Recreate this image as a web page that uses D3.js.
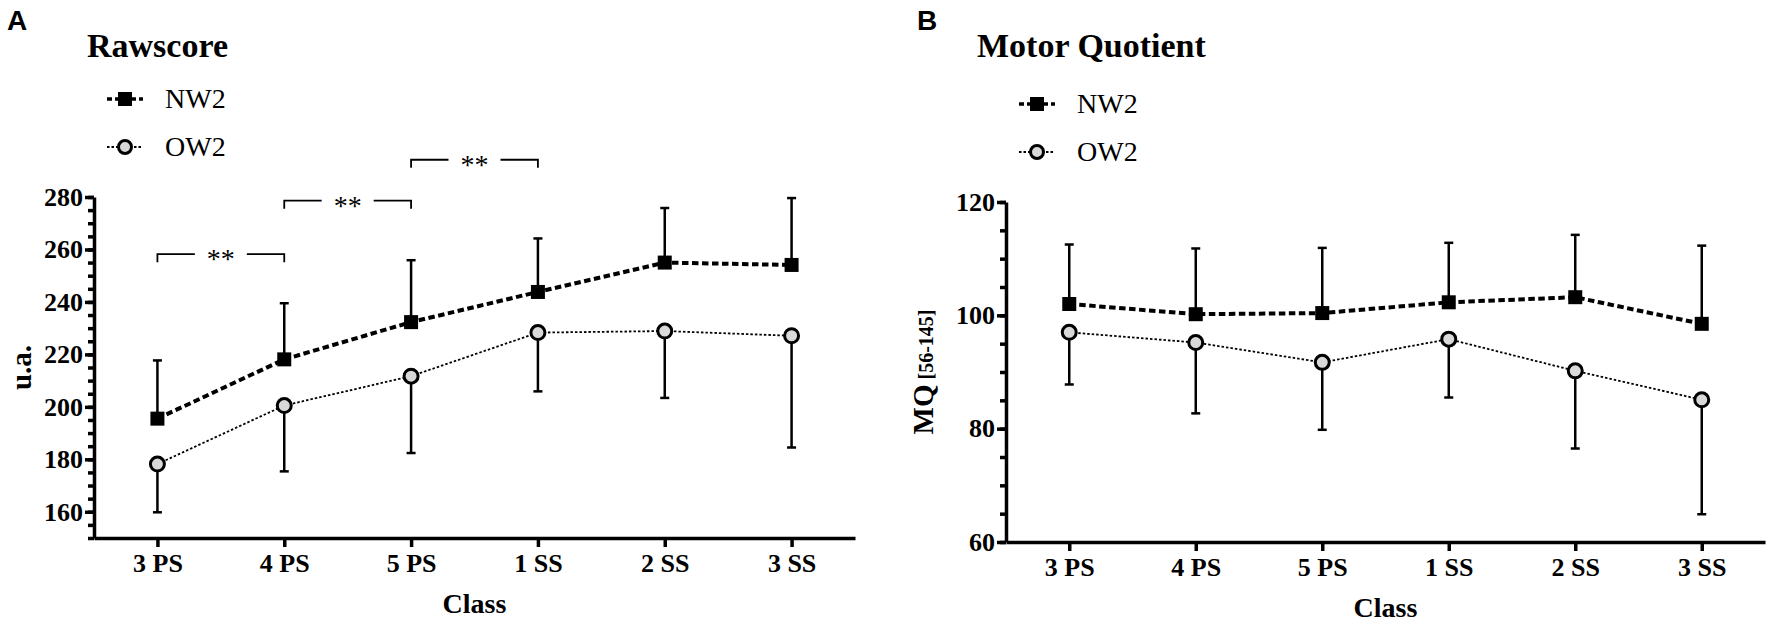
<!DOCTYPE html>
<html>
<head>
<meta charset="utf-8">
<script src="https://cdn.jsdelivr.net/npm/d3@7"></script>
<style>
  html, body { margin: 0; padding: 0; background: #fff; }
  svg { display: block; }
  .tick text { font-family: "Liberation Serif", "Times New Roman", serif; font-weight: bold; font-size: 26px; fill: #000; }
</style>
</head>
<body>
<div id="chart"></div>
<script>
const categories = ['3 PS', '4 PS', '5 PS', '1 SS', '2 SS', '3 SS'];

// Rawscore (u.a.)
const rawNW2 = [195.5, 218.1, 232.3, 243.8, 255.0, 254.1];
const rawNW2Upper = [217.7, 239.5, 255.9, 264.2, 275.8, 279.6];
const rawOW2 = [178.2, 200.5, 211.7, 228.3, 228.9, 227.1];
const rawOW2Lower = [159.8, 175.4, 182.4, 205.9, 203.4, 184.5];
const rawTicks = [160, 180, 200, 220, 240, 260, 280];
const rawBrackets = [
  { from: '3 PS', to: '4 PS', level: 258.2, label: '**' },
  { from: '4 PS', to: '5 PS', level: 278.6, label: '**' },
  { from: '5 PS', to: '1 SS', level: 294.2, label: '**' }
];

// Motor Quotient
const mqNW2 = [102.0, 100.2, 100.4, 102.3, 103.2, 98.5];
const mqNW2Upper = [112.5, 111.8, 111.9, 112.8, 114.2, 112.3];
const mqOW2 = [97.0, 95.2, 91.7, 95.8, 90.2, 85.1];
const mqOW2Lower = [87.8, 82.7, 79.8, 85.5, 76.5, 64.9];
const mqTicks = [60, 80, 100, 120];

const serif = '"Liberation Serif", "Times New Roman", serif';
const sans = '"Liberation Sans", Arial, sans-serif';

const svg = d3.select('#chart').append('svg')
  .attr('width', 1772)
  .attr('height', 625);

function drawPanel(opt) {
  const g = svg.append('g');

  const x = d3.scalePoint()
    .domain(categories)
    .range([opt.left, opt.right])
    .padding(0.5);

  const y = d3.scaleLinear()
    .domain(opt.domain)
    .range([opt.bottom, opt.top]);

  // minor ticks
  g.append('g')
    .attr('transform', `translate(${opt.left},0)`)
    .call(d3.axisLeft(y).tickValues(d3.range(opt.domain[0], opt.domain[1] + 0.1, 5)).tickSize(6).tickFormat(''))
    .call(a => a.select('.domain').remove())
    .call(a => a.selectAll('line').attr('stroke-width', 3.5));

  // y axis
  g.append('g')
    .attr('transform', `translate(${opt.left},0)`)
    .call(d3.axisLeft(y).tickValues(opt.ticks).tickSize(9).tickSizeOuter(0).tickPadding(2))
    .call(a => a.select('.domain').attr('stroke-width', 3.5))
    .call(a => a.selectAll('line').attr('stroke-width', 3.5));

  // x axis
  g.append('g')
    .attr('transform', `translate(0,${opt.bottom})`)
    .call(d3.axisBottom(x).tickSize(9).tickSizeOuter(0).tickPadding(7))
    .call(a => a.select('.domain').attr('stroke-width', 3.5))
    .call(a => a.selectAll('line').attr('stroke-width', 3.5));

  // axis titles
  g.append('text')
    .attr('x', (opt.left + opt.right) / 2)
    .attr('y', opt.bottom + 75)
    .attr('text-anchor', 'middle')
    .style('font-family', serif)
    .style('font-weight', 'bold')
    .style('font-size', '28px')
    .text('Class');

  const yl = g.append('text')
    .attr('transform', `translate(${opt.yLabelX},${(opt.top + opt.bottom) / 2}) rotate(-90)`)
    .attr('text-anchor', 'middle')
    .style('font-family', serif)
    .style('font-weight', 'bold')
    .style('font-size', '29px');
  yl.append('tspan').text(opt.yLabel);
  if (opt.yLabelSmall) {
    yl.append('tspan').style('font-size', '20px').text(' ' + opt.yLabelSmall);
  }

  // panel letter and title
  g.append('text')
    .attr('x', opt.letterX)
    .attr('y', 30)
    .style('font-family', sans)
    .style('font-weight', 'bold')
    .style('font-size', '28px')
    .text(opt.letter);

  g.append('text')
    .attr('x', opt.titleX)
    .attr('y', 57)
    .style('font-family', serif)
    .style('font-weight', 'bold')
    .style('font-size', '34px')
    .text(opt.title);

  // legend
  const lg = g.append('g');
  const legendItems = [
    { name: 'NW2', y: opt.legendY[0], dash: '5,3', width: 3.5, marker: 'square' },
    { name: 'OW2', y: opt.legendY[1], dash: '2.5,2', width: 1.8, marker: 'circle' }
  ];
  legendItems.forEach(d => {
    lg.append('line')
      .attr('x1', opt.left + 13).attr('x2', opt.left + 49)
      .attr('y1', d.y).attr('y2', d.y)
      .attr('stroke', '#000')
      .attr('stroke-width', d.width)
      .attr('stroke-dasharray', d.dash);
    if (d.marker === 'square') {
      lg.append('rect')
        .attr('x', opt.left + 31 - 7).attr('y', d.y - 7)
        .attr('width', 14).attr('height', 14)
        .attr('fill', '#000');
    } else {
      lg.append('circle')
        .attr('cx', opt.left + 31).attr('cy', d.y).attr('r', 6.5)
        .attr('fill', '#d9d9d9').attr('stroke', '#000').attr('stroke-width', 3);
    }
    lg.append('text')
      .attr('x', opt.left + 71)
      .attr('y', d.y + 9)
      .style('font-family', serif)
      .style('font-size', '28px')
      .text(d.name);
  });

  // error bars: NW2 upwards, OW2 downwards
  const err = g.append('g');
  categories.forEach((c, i) => {
    const cx = x(c);
    err.append('line')
      .attr('x1', cx).attr('x2', cx)
      .attr('y1', y(opt.nw2[i])).attr('y2', y(opt.nw2Upper[i]))
      .attr('stroke', '#000').attr('stroke-width', 2.5);
    err.append('line')
      .attr('x1', cx - 4.5).attr('x2', cx + 4.5)
      .attr('y1', y(opt.nw2Upper[i])).attr('y2', y(opt.nw2Upper[i]))
      .attr('stroke', '#000').attr('stroke-width', 2.5);
    err.append('line')
      .attr('x1', cx).attr('x2', cx)
      .attr('y1', y(opt.ow2[i])).attr('y2', y(opt.ow2Lower[i]))
      .attr('stroke', '#000').attr('stroke-width', 2.5);
    err.append('line')
      .attr('x1', cx - 4.5).attr('x2', cx + 4.5)
      .attr('y1', y(opt.ow2Lower[i])).attr('y2', y(opt.ow2Lower[i]))
      .attr('stroke', '#000').attr('stroke-width', 2.5);
  });

  // lines
  const line = d3.line()
    .x((d, i) => x(categories[i]))
    .y(d => y(d));

  g.append('path')
    .datum(opt.ow2)
    .attr('d', line)
    .attr('fill', 'none')
    .attr('stroke', '#000')
    .attr('stroke-width', 1.8)
    .attr('stroke-dasharray', '2.5,2');

  g.append('path')
    .datum(opt.nw2)
    .attr('d', line)
    .attr('fill', 'none')
    .attr('stroke', '#000')
    .attr('stroke-width', 4)
    .attr('stroke-dasharray', '6.5,3.5');

  // markers
  g.append('g')
    .selectAll('rect')
    .data(opt.nw2)
    .join('rect')
    .attr('x', (d, i) => x(categories[i]) - 7)
    .attr('y', d => y(d) - 7)
    .attr('width', 14)
    .attr('height', 14)
    .attr('fill', '#000');

  g.append('g')
    .selectAll('circle')
    .data(opt.ow2)
    .join('circle')
    .attr('cx', (d, i) => x(categories[i]))
    .attr('cy', d => y(d))
    .attr('r', 7)
    .attr('fill', '#d9d9d9')
    .attr('stroke', '#000')
    .attr('stroke-width', 3);

  // significance brackets
  (opt.brackets || []).forEach(b => {
    const x1 = x(b.from), x2 = x(b.to), by = y(b.level);
    const mid = (x1 + x2) / 2;
    const bg = g.append('g').attr('fill', 'none').attr('stroke', '#000').attr('stroke-width', 1.8);
    bg.append('path').attr('d', `M${x1},${by + 8}V${by}H${mid - 26}`);
    bg.append('path').attr('d', `M${mid + 26},${by}H${x2}V${by + 8}`);
    g.append('text')
      .attr('x', mid)
      .attr('y', by + 14)
      .attr('text-anchor', 'middle')
      .style('font-family', serif)
      .style('font-size', '28px')
      .text(b.label);
  });
}

drawPanel({
  left: 94, right: 855, top: 197, bottom: 538,
  domain: [150, 280], ticks: rawTicks,
  nw2: rawNW2, nw2Upper: rawNW2Upper, ow2: rawOW2, ow2Lower: rawOW2Lower,
  brackets: rawBrackets,
  yLabel: 'u.a.', yLabelX: 31,
  letter: 'A', letterX: 7, title: 'Rawscore', titleX: 87,
  legendY: [99, 147]
});

drawPanel({
  left: 1006, right: 1765, top: 202, bottom: 542,
  domain: [60, 120], ticks: mqTicks,
  nw2: mqNW2, nw2Upper: mqNW2Upper, ow2: mqOW2, ow2Lower: mqOW2Lower,
  yLabel: 'MQ', yLabelSmall: '[56-145]', yLabelX: 933,
  letter: 'B', letterX: 917, title: 'Motor Quotient', titleX: 977,
  legendY: [104, 152]
});
</script>
</body>
</html>
